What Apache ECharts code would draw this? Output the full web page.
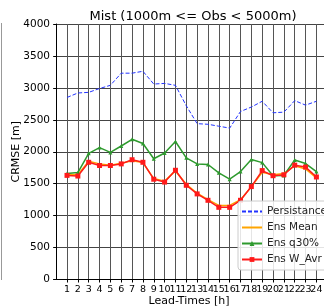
<!DOCTYPE html>
<html><head><meta charset="utf-8">
<script src="https://cdn.jsdelivr.net/npm/echarts@6/dist/echarts.min.js"></script>
<style>html,body{margin:0;padding:0;background:#fff}#c{width:324px;height:308px}</style>
</head><body><div id="c"></div>
<script>
const leadTimes = [1,2,3,4,5,6,7,8,9,10,11,12,13,14,15,16,17,18,19,20,21,22,23,24];
const persistance = [2850,2920,2930,2990,3040,3230,3230,3260,3060,3070,3040,2720,2440,2430,2400,2370,2630,2700,2790,2610,2620,2800,2730,2790];
const ensMean = [1640,1640,1850,1810,1790,1820,1860,1830,1580,1540,1700,1490,1350,1250,1160,1160,1250,1450,1680,1640,1660,1780,1730,1590];
const ensQ30 = [1660,1675,1975,2065,1990,2090,2195,2130,1890,1980,2160,1905,1810,1800,1670,1570,1690,1880,1830,1625,1630,1870,1815,1690];
const ensWAvr = [1630,1620,1835,1785,1785,1810,1875,1835,1570,1525,1710,1475,1340,1240,1130,1130,1240,1455,1705,1625,1640,1790,1760,1605];
const yTicks = [0,500,1000,1500,2000,2500,3000,3500,4000];

const pair = arr => arr.map((v,i)=>[leadTimes[i], v]);
const oddTimes = leadTimes.filter((v,i)=>i%2===0);
const evenTimes = leadTimes.filter((v,i)=>i%2===1);
const font = 'DejaVu Sans';
const xLabelStyle = {interval:0, hideOverlap:false, showMinLabel:true, showMaxLabel:true,
  fontFamily:font, fontSize:9.5, color:'#000', margin:5, formatter:v=>String(v)};
const chart = echarts.init(document.getElementById('c'), null, {renderer:'canvas'});
chart.setOption({
  animation:false,
  backgroundColor:'#fff',
  title:{text:'Mist (1000m <= Obs < 5000m)', left:188, top:5, textAlign:'center',
    textStyle:{fontFamily:font, fontSize:13, fontWeight:'normal', color:'#000'}},
  grid:{left:54, right:0, top:24, bottom:28.5, containLabel:false, outerBoundsMode:'none'},
  xAxis:[{type:'value', min:-0.2, max:24.7, position:'bottom', offset:0,
    name:'Lead-Times [h]', nameLocation:'middle', nameGap:16, nameMoveOverlap:false,
    nameTextStyle:{fontFamily:font, fontSize:11, color:'#000'},
    axisLine:{onZero:false, lineStyle:{color:'#000', width:1}},
    axisTick:{show:true, length:3, customValues:leadTimes, lineStyle:{color:'#000'}},
    axisLabel:Object.assign({customValues:oddTimes}, xLabelStyle),
    splitLine:{show:true, lineStyle:{color:'#555', width:1}}},
   {type:'value', min:-0.2, max:24.7, position:'bottom', offset:0,
    axisLine:{show:false, onZero:false}, axisTick:{show:false, customValues:evenTimes},
    axisLabel:Object.assign({customValues:evenTimes}, xLabelStyle),
    splitLine:{show:false}}],
  yAxis:{type:'value', min:0, max:4000, interval:500,
    name:'CRMSE [m]', nameLocation:'middle', nameGap:32, nameRotate:90, nameMoveOverlap:false,
    nameTextStyle:{fontFamily:font, fontSize:11, color:'#000'},
    axisLine:{show:true, lineStyle:{color:'#000', width:1}},
    axisTick:{show:true, length:3, lineStyle:{color:'#000'}},
    axisLabel:{fontFamily:font, fontSize:10.5, color:'#000', margin:4, formatter:v=>String(v)},
    splitLine:{show:true, lineStyle:{color:'#444', width:1}}},
  legend:{orient:'vertical', left:238, top:201, itemWidth:20, itemHeight:6, itemGap:5,
    padding:[5,4,5,3], backgroundColor:'rgba(255,255,255,0.85)', borderColor:'#ccc', borderWidth:1, borderRadius:3,
    textStyle:{fontFamily:font, fontSize:10.5, color:'#222'},
    data:[{name:'Persistance', itemStyle:{opacity:0}},{name:'Ens Mean', itemStyle:{opacity:0}},'Ens q30%','Ens W_Avr']},
  graphic:[{type:'line', shape:{x1:1.5,y1:23,x2:1.5,y2:280}, style:{stroke:'#999', lineWidth:1}, silent:true}],
  series:[
    {name:'Persistance', type:'line', xAxisIndex:0, data:pair(persistance), showSymbol:false, symbol:'none',
      lineStyle:{color:'#2233ff', width:1, type:[4,2]}, itemStyle:{color:'#2233ff'}},
    {name:'Ens Mean', type:'line', xAxisIndex:0, data:pair(ensMean), showSymbol:false, symbol:'none',
      lineStyle:{color:'#ffa500', width:1.5}, itemStyle:{color:'#ffa500'}},
    {name:'Ens q30%', type:'line', xAxisIndex:0, data:pair(ensQ30), symbol:'triangle', symbolSize:4,
      lineStyle:{color:'#2e9a2e', width:1.5}, itemStyle:{color:'#2e9a2e'}},
    {name:'Ens W_Avr', type:'line', xAxisIndex:0, data:pair(ensWAvr), symbol:'rect', symbolSize:5,
      lineStyle:{color:'#ff1a1a', width:1.5}, itemStyle:{color:'#ff1a1a'}}
  ]
});
</script></body></html>
